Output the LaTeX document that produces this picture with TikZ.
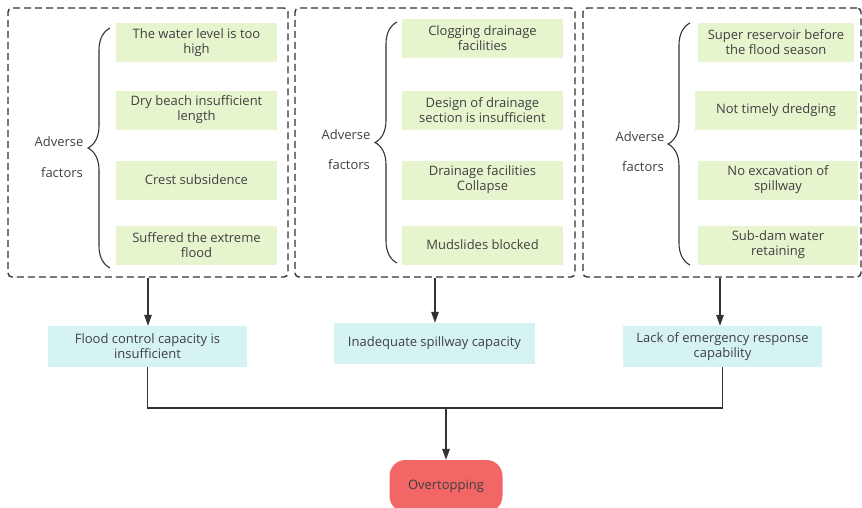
\documentclass[tikz,border=0pt]{standalone}
\usepackage{fontspec}
\setmainfont{Open Sans}
\usetikzlibrary{arrows.meta,positioning,calc,decorations.pathreplacing}
\definecolor{leafgreen}{RGB}{230,245,206}
\definecolor{paleaqua}{RGB}{214,243,243}
\definecolor{alarmred}{RGB}{243,102,102}
\definecolor{inkgray}{RGB}{51,51,51}
\definecolor{txtgray}{RGB}{64,64,64}
\tikzset{
  grp/.style={draw=inkgray, line width=1.4pt, dash pattern=on 7pt off 4pt, rounded corners=4pt, minimum height=269pt},
  fbox/.style={fill=leafgreen, text=txtgray, font=\fontsize{13}{15}\selectfont, align=center, inner sep=0pt, minimum width=161pt, minimum height=39pt},
  cbox/.style={fill=paleaqua, text=txtgray, font=\fontsize{13}{15}\selectfont, align=center, inner sep=0pt, minimum width=200pt, minimum height=41pt},
  tbox/.style={fill=alarmred, text=txtgray, font=\fontsize{13}{15}\selectfont, rounded corners=16pt, minimum width=113pt, minimum height=52pt},
  adv/.style={text=txtgray, font=\fontsize{13}{15}\selectfont, inner sep=0pt},
  brc/.style={draw=inkgray, line width=1.1pt, decorate, decoration={brace, amplitude=22pt}},
  arr/.style={-{Triangle[length=11pt,width=7.5pt]}, inkgray, line width=1.4pt},
  lnk/.style={inkgray, line width=1.4pt},
}
\begin{document}
\begin{tikzpicture}[x=1pt,y=-1pt]
\clip (0,0) rectangle (862,507);
% groups of adverse factors
\node[grp, minimum width=280pt] (gl) at (148,142.5) {};
\node[grp, minimum width=280pt] (gm) at (435,142.5) {};
\node[grp, minimum width=278pt] (gr) at (722,142.5) {};
% left group
\node[fbox] (l1) at (196.5,42.5) {The water level is too\\high};
\node[fbox] (l2) at (196.5,110) {Dry beach insufficient\\length};
\node[fbox] (l3) at (196.5,180) {Crest subsidence};
\node[fbox] (l4) at (196.5,245) {Suffered the extreme\\flood};
\draw[brc] (110,268) -- (110,28);
\node[adv] (la) at (59,142) {Adverse};
\node[adv] (lf) at (62,173) {factors};
% middle group
\node[fbox] (m1) at (482.5,38.5) {Clogging drainage\\facilities};
\node[fbox] (m2) at (482.5,110) {Design of drainage\\section is insufficient};
\node[fbox] (m3) at (482.5,180) {Drainage facilities\\Collapse};
\node[fbox] (m4) at (482.5,245) {Mudslides blocked};
\draw[brc] (397,263) -- (397,22);
\node[adv] (ma) at (346,135) {Adverse};
\node[adv] (mf) at (349,165) {factors};
% right group
\node[fbox, minimum width=156pt] (r1) at (776,42.5) {Super reservoir before\\the flood season};
\node[fbox, minimum width=162pt] (r2) at (776,110) {Not timely dredging};
\node[fbox, minimum width=160pt] (r3) at (778,180) {No excavation of\\spillway};
\node[fbox, minimum width=160pt] (r4) at (778,245) {Sub-dam water\\retaining};
\draw[brc] (690,265) -- (690,23);
\node[adv] (ra) at (640,137) {Adverse};
\node[adv] (rf) at (643,167) {factors};
% capacities
\node[cbox, minimum width=199pt] (cl) at (147.5,346.5) {Flood control capacity is\\insufficient};
\node[cbox, minimum width=201pt] (cm) at (434.5,343.5) {Inadequate spillway capacity};
\node[cbox, minimum width=199pt] (cr) at (722.5,346.5) {Lack of emergency response\\capability};
\node[tbox] (ot) at (446,486) {Overtopping};
% connectors
\draw[arr] (gl.south) -- (gl.south |- cl.north);
\draw[arr] (gm.south) -- (gm.south |- cm.north);
\draw[arr] ([xshift=-2pt]gr.south) -- ([xshift=-2pt]gr.south |- cr.north);
\coordinate (jn) at (446,408);
\draw[lnk] (cl.south) |- (jn) -| (cr.south);
\draw[arr] (jn) -- (ot.north);
\end{tikzpicture}
\end{document}
